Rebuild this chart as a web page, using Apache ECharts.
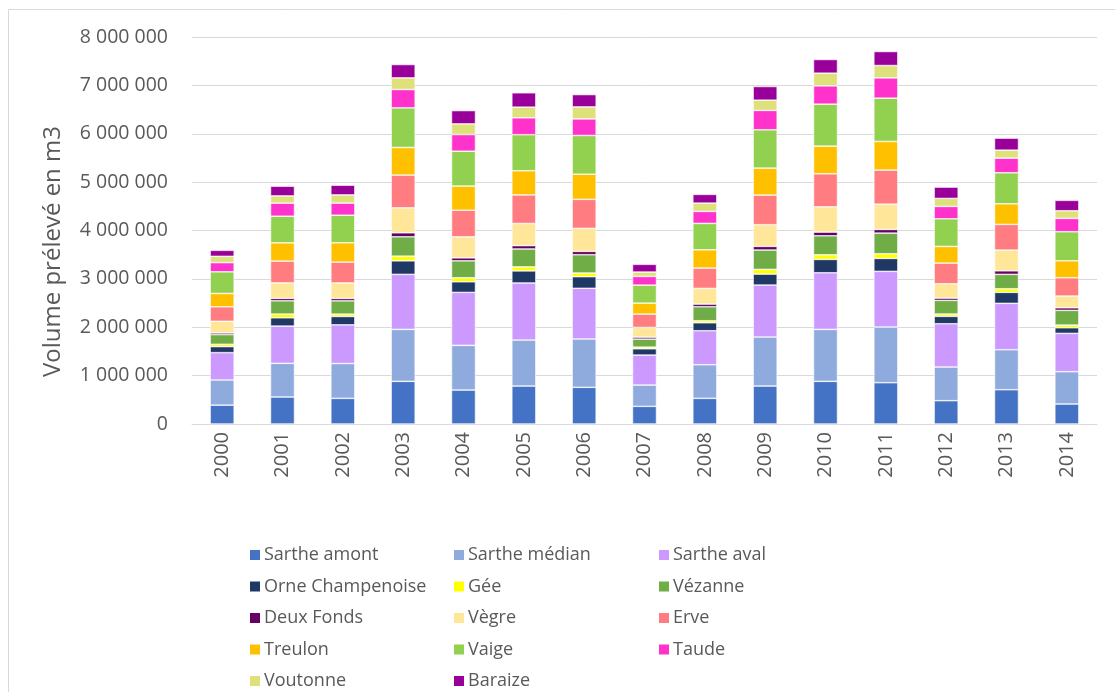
<!DOCTYPE html>
<html>
<head>
<meta charset="utf-8">
<script src="https://cdn.jsdelivr.net/npm/echarts@6/dist/echarts.min.js"></script>
<style>
  html, body { margin: 0; padding: 0; background: #fff; }
  #main { width: 1115px; height: 692px; }
</style>
</head>
<body>
<div id="main"></div>
<script>
const years = ['2000','2001','2002','2003','2004','2005','2006','2007','2008','2009','2010','2011','2012','2013','2014'];

// volumes en m3
const sartheAmont   = [390000, 558000, 530000, 882000, 702000, 785000, 758000, 365000, 530000, 785000, 882000, 854000, 482000, 709000, 413000];
const sartheMedian  = [520000, 696000, 720000, 1074000, 924000, 950000, 1000000, 440000, 695000, 1012000, 1074000, 1150000, 696000, 826000, 668000];
const sartheAval    = [565000, 770000, 800000, 1137000, 1094000, 1180000, 1047000, 620000, 703000, 1075000, 1170000, 1151000, 894000, 959000, 792000];
const orne          = [125000, 172000, 173000, 280000, 220000, 250000, 240000, 130000, 165000, 227000, 276000, 268000, 153000, 227000, 117000];
const gee           = [48000, 76000, 48000, 97000, 83000, 83000, 76000, 34000, 41000, 97000, 96000, 96000, 48000, 75000, 55000];
const vezanne       = [200000, 275000, 275000, 400000, 350000, 370000, 378000, 166000, 290000, 400000, 393000, 427000, 282000, 297000, 304000];
const deuxFonds     = [35000, 50000, 50000, 83000, 62000, 70000, 70000, 41000, 55000, 76000, 76000, 76000, 48000, 74000, 54000];
const vegre         = [240000, 320000, 320000, 516000, 434000, 457000, 475000, 200000, 324000, 448000, 523000, 523000, 296000, 428000, 242000];
const erve          = [300000, 450000, 430000, 676000, 550000, 590000, 600000, 276000, 420000, 612000, 682000, 703000, 427000, 531000, 378000];
const treulon       = [276000, 378000, 400000, 572000, 500000, 500000, 520000, 227000, 378000, 558000, 572000, 593000, 345000, 426000, 351000];
const vaige         = [447000, 550000, 570000, 818000, 720000, 745000, 800000, 372000, 546000, 792000, 868000, 895000, 571000, 641000, 600000];
const taude         = [190000, 270000, 250000, 380000, 345000, 350000, 343000, 180000, 248000, 400000, 378000, 419000, 256000, 303000, 277000];
const voutonne      = [130000, 150000, 170000, 240000, 220000, 220000, 248000, 90000, 171000, 212000, 262000, 255000, 165000, 165000, 157000];
const baraize       = [124000, 200000, 200000, 276000, 275000, 297000, 255000, 160000, 180000, 283000, 283000, 290000, 234000, 248000, 215000];

const seriesNames = ['Sarthe amont','Sarthe médian','Sarthe aval','Orne Champenoise','Gée','Vézanne','Deux Fonds','Vègre','Erve','Treulon','Vaige','Taude','Voutonne','Baraize'];
const seriesData = [sartheAmont, sartheMedian, sartheAval, orne, gee, vezanne, deuxFonds, vegre, erve, treulon, vaige, taude, voutonne, baraize];
const colors = ['#4472C4','#8FAADC','#CC99FF','#203864','#FFFF00','#70AD47','#660066','#FFE699','#FF7C80','#FFC000','#92D050','#FF33CC','#DEE07A','#990099'];

var myChart = echarts.init(document.getElementById('main'));

const txt = '#595959';
const font = '"Open Sans", "Noto Sans", sans-serif';

// une légende verticale par colonne
function legendCol(left, names) {
  return {
    orient: 'vertical',
    left: left,
    top: 541,
    height: 200,
    itemWidth: 12,
    itemHeight: 12,
    itemGap: 13.5,
    icon: 'rect',
    selectedMode: false,
    textStyle: { color: txt, fontSize: 18, fontFamily: font, padding: [0, 0, 0, -2] },
    data: names
  };
}

let option = {
  animation: false,
  color: colors,
  graphic: [{
    type: 'polyline',
    shape: { points: [[8.5, 692], [8.5, 9.5], [1115, 9.5]] },
    style: { stroke: '#d9d9d9', lineWidth: 1, fill: null }
  }],
  legend: [
    legendCol(243, ['Sarthe amont','Orne Champenoise','Deux Fonds','Treulon','Voutonne']),
    legendCol(447, ['Sarthe médian','Gée','Vègre','Vaige','Baraize']),
    legendCol(652, ['Sarthe aval','Vézanne','Erve','Taude'])
  ],
  grid: { left: 192, right: 18, top: 37, bottom: 268 },
  xAxis: {
    type: 'category',
    data: years,
    axisLine: { lineStyle: { color: '#d9d9d9' } },
    axisTick: { show: false },
    axisLabel: { rotate: 90, color: txt, fontSize: 20, fontFamily: font, margin: 8 }
  },
  yAxis: {
    type: 'value',
    min: 0,
    max: 8000000,
    interval: 1000000,
    name: 'Volume prélevé en m3',
    nameLocation: 'middle',
    nameGap: 127,
    nameTextStyle: { color: txt, fontSize: 24, fontFamily: font, padding: [0, 42, 0, 0] },
    axisLine: { show: false },
    axisTick: { show: false },
    splitLine: { lineStyle: { color: '#d9d9d9' } },
    axisLabel: {
      color: txt, fontSize: 19.5, fontFamily: font, margin: 24,
      formatter: function (v) {
        return String(v).replace(/\B(?=(\d{3})+(?!\d))/g, ' ');
      }
    }
  },
  series: seriesNames.map(function (name, i) {
    return {
      name: name,
      type: 'bar',
      stack: 'total',
      barWidth: 24,
      data: seriesData[i],
      itemStyle: { borderColor: '#ffffff', borderWidth: 0.6 }
    };
  })
};

myChart.setOption(option);
</script>
</body>
</html>
